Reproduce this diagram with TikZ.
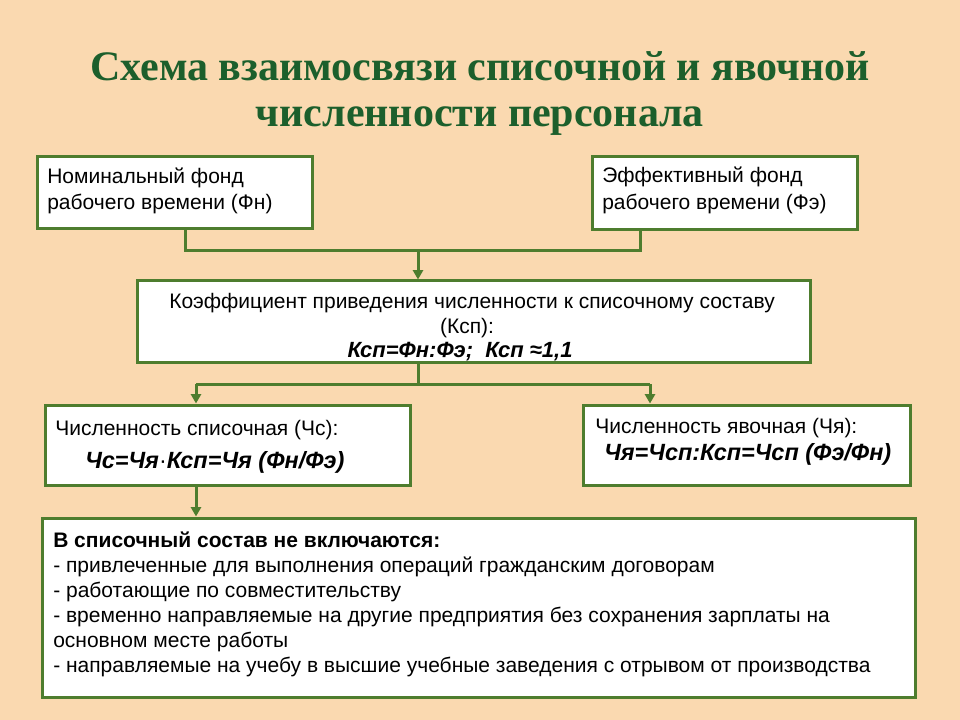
\documentclass[tikz,border=0pt]{standalone}
\usepackage{fontspec}
\setmainfont{Liberation Sans}
\newfontfamily\titlefont{Liberation Serif}
\usetikzlibrary{arrows.meta,fit}
\definecolor{bgc}{HTML}{FAD9B0}
\definecolor{framec}{HTML}{4E7D2E}
\definecolor{ttlc}{HTML}{1C5F2C}
\begin{document}
\begin{tikzpicture}[x=0.75pt,y=-0.75pt,
  box/.style={draw=framec, line width=2.25pt, fill=white, inner sep=0pt},
  conn/.style={draw=framec, line width=2.25pt},
  arr/.style={-{Triangle[length=7pt,width=7.5pt]}},
  txt/.style={inner sep=0pt, anchor=base west, font=\fontsize{15.75pt}{18.75pt}\selectfont},
  txtb/.style={txt, font=\fontsize{15.75pt}{18.75pt}\selectfont\bfseries},
  txtbi/.style={txt, font=\fontsize{16.5pt}{19pt}\selectfont\bfseries\itshape},
  txtbig/.style={txt, font=\fontsize{17.6pt}{20pt}\selectfont\bfseries\itshape},
  ttl/.style={inner sep=0pt, anchor=base, text=ttlc, font=\fontsize{31.5pt}{36pt}\selectfont\titlefont\bfseries}]
\fill[bgc] (0,0) rectangle (960,720);
\useasboundingbox (0,0) rectangle (960,720);

% title
\node[ttl] (t1) at (480,81) {Схема взаимосвязи списочной и явочной};
\node[ttl] (t2) at (480,127) {численности персонала};

% boxes
\node[box, fit={(37,157)(312,229)}] (A) {};
\node[box, fit={(592,157)(857,230)}] (B) {};
\node[box, fit={(137,281)(810,362)}] (C) {};
\node[box, fit={(45,405)(410,485)}] (D) {};
\node[box, fit={(583,405)(910,485)}] (E) {};
\node[box, fit={(42,518)(915,697)}] (F) {};

% connectors
\coordinate (ja) at (185,251);
\coordinate (jb) at (640,251);
\coordinate (jc) at (418,251);
\draw[conn] (ja |- A.south) -- (ja) -- (jb) -- (jb |- B.south);
\draw[conn,arr] (jc) -- (jc |- C.north);
\coordinate (kc) at (418,384);
\coordinate (kd) at (196,384);
\coordinate (ke) at (650,384);
\draw[conn] (kc |- C.south) -- (kc);
\draw[conn] (kd) -- (ke);
\draw[conn,arr] (kd) -- (kd |- D.north);
\draw[conn,arr] (ke) -- (ke |- E.north);
\draw[conn,arr] (kd |- D.south) -- (kd |- F.north);

% texts
\node[txt] (a1) at (47,184) {Номинальный фонд};
\node[txt] (a2) at (47,210) {рабочего времени (Фн)};
\node[txt] (b1) at (602,183) {Эффективный фонд};
\node[txt] (b2) at (602,210) {рабочего времени (Фэ)};
\node[txt, anchor=base] (c1) at (472,308) {Коэффициент приведения численности к списочному составу};
\node[txt, anchor=base] (c2) at (467,333) {(Ксп):};
\node[txtbi, anchor=base] (c3) at (460,357) {Ксп=Фн:Фэ;\ \ Ксп ≈1,1};
\node[txt] (d1) at (55,435) {Численность списочная (Чс):};
\node[txtbig] (d2) at (85,468) {Чс=Чя{\normalfont·}Ксп=Чя (Фн/Фэ)};
\node[txt] (e1) at (595,433) {Численность явочная (Чя):};
\node[txtbig] (e2) at (604,460) {Чя=Чсп:Ксп=Чсп (Фэ/Фн)};
\node[txtb] (f1) at (53,547) {В списочный состав не включаются:};
\node[txt] (f2) at (53,572) {- привлеченные для выполнения операций гражданским договорам};
\node[txt] (f3) at (53,597) {- работающие по совместительству};
\node[txt] (f4) at (53,622) {- временно направляемые на другие предприятия без сохранения зарплаты на};
\node[txt] (f5) at (53,647) {основном месте работы};
\node[txt] (f6) at (53,672) {- направляемые на учебу в высшие учебные заведения с отрывом от производства};
\end{tikzpicture}
\end{document}
